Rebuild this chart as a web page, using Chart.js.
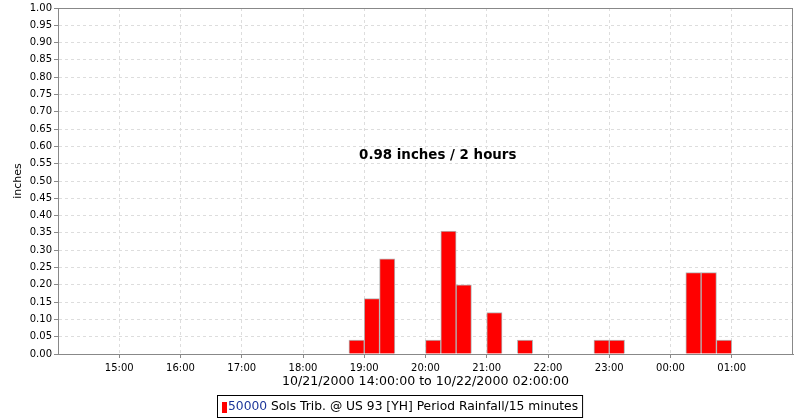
<!DOCTYPE html>
<html>
<head>
<meta charset="utf-8">
<script src="https://cdn.jsdelivr.net/npm/chart.js@4/dist/chart.umd.min.js"></script>
<style>
  html, body { margin: 0; padding: 0; background: #fff; }
  #wrap { width: 800px; height: 420px; }
</style>
</head>
<body>
<div id="wrap"><canvas id="rainChart" width="800" height="420"></canvas></div>
<script>
// End time of each 15 minute period and the rainfall in it (inches)
const periodEnds = ['19:00', '19:15', '19:30', '20:15', '20:30', '20:45', '21:15', '21:45', '23:00', '23:15', '00:30', '00:45', '01:00'];
const rainfall = [0.04, 0.16, 0.275, 0.04, 0.355, 0.2, 0.12, 0.04, 0.04, 0.04, 0.235, 0.235, 0.04];
const hourTicks = ['15:00', '16:00', '17:00', '18:00', '19:00', '20:00', '21:00', '22:00', '23:00', '00:00', '01:00'];

const seriesId = '50000';
const seriesName = ' Sols Trib. @ US 93 [YH] Period Rainfall/15 minutes';
const axisTitle = '10/21/2000 14:00:00 to 10/22/2000 02:00:00';
const totalNote = '0.98 inches / 2 hours';

const startHour = 14;
const FONT = '"DejaVu Sans", sans-serif';

// minutes after the start of the window (14:00)
function toMinutes(hhmm) {
    const [h, m] = hhmm.split(':').map(Number);
    return (h * 60 + m - startHour * 60 + 1440) % 1440;
}

function formatTick(value) {
    const h = (startHour + Math.floor(value / 60)) % 24;
    const m = value % 60;
    return String(h).padStart(2, '0') + ':' + String(m).padStart(2, '0');
}

// bars sit over their 15 minute period
const points = periodEnds.map((t, i) => ({ x: toMinutes(t) - 7.5, y: rainfall[i] }));

// plot frame, note and legend
const extras = {
    id: 'extras',
    afterDraw(chart) {
        const { ctx, chartArea: a, scales } = chart;
        ctx.save();
        ctx.strokeStyle = '#888888';
        ctx.lineWidth = 1;
        ctx.strokeRect(a.left + 0.5, a.top + 0.5, a.right - a.left - 1, a.bottom - a.top);

        // total note
        ctx.fillStyle = '#000';
        ctx.font = 'bold 13.4px ' + FONT;
        ctx.textAlign = 'center';
        ctx.textBaseline = 'middle';
        ctx.fillText(totalNote, scales.x.getPixelForValue(372), scales.y.getPixelForValue(0.575));

        // legend
        ctx.font = '12.3px ' + FONT;
        ctx.textAlign = 'left';
        const w1 = ctx.measureText(seriesId).width;
        const w2 = ctx.measureText(seriesName).width;
        const boxW = 4 + 5 + 1 + w1 + w2 + 5;
        const bx = Math.round((chart.width - boxW) / 2);
        const by = 395;
        ctx.strokeStyle = '#000';
        ctx.strokeRect(bx + 0.5, by + 0.5, boxW, 22);
        ctx.fillStyle = '#ff0000';
        ctx.fillRect(bx + 5, by + 7, 5, 11);
        ctx.textBaseline = 'middle';
        ctx.fillStyle = '#1a3399';
        ctx.fillText(seriesId, bx + 11, by + 12);
        ctx.fillStyle = '#000';
        ctx.fillText(seriesName, bx + 11 + w1, by + 12);
        ctx.restore();
    }
};

new Chart(document.getElementById('rainChart').getContext('2d'), {
    type: 'bar',
    data: {
        datasets: [{
            label: seriesId + seriesName,
            data: points,
            backgroundColor: '#ff0000',
            borderColor: '#b4b4b4',
            borderWidth: 1,
            barPercentage: 1,
            categoryPercentage: 1
        }]
    },
    options: {
        responsive: false,
        animation: false,
        layout: { padding: { top: 6, right: 7, left: 0, bottom: 30 } },
        plugins: {
            legend: { display: false },
            tooltip: { enabled: false }
        },
        scales: {
            x: {
                type: 'linear',
                min: 0,
                max: 720,
                offset: false,
                afterBuildTicks(scale) {
                    scale.ticks = hourTicks.map(t => ({ value: toMinutes(t) }));
                },
                afterFit(scale) { scale.height = 36; },
                ticks: {
                    callback: v => formatTick(v),
                    color: '#000',
                    font: { family: FONT, size: 10 },
                    maxRotation: 0,
                    padding: 4
                },
                grid: {
                    offset: false,
                    color: '#dddddd',
                    tickColor: '#888888',
                    tickLength: 4,
                    tickBorderDash: []
                },
                border: { color: '#888888', dash: [3, 3] },
                title: {
                    display: true,
                    text: axisTitle,
                    color: '#000',
                    font: { family: FONT, size: 12.6 },
                    padding: { top: 0, bottom: 1 }
                }
            },
            y: {
                min: 0,
                max: 1,
                afterFit(scale) { scale.width = 58; },
                ticks: {
                    stepSize: 0.05,
                    callback: v => v.toFixed(2),
                    color: '#000',
                    font: { family: FONT, size: 10 },
                    padding: 2
                },
                grid: {
                    color: '#dddddd',
                    tickColor: '#888888',
                    tickLength: 4,
                    tickBorderDash: []
                },
                border: { color: '#888888', dash: [3, 3] },
                title: {
                    display: true,
                    text: 'inches',
                    color: '#000',
                    font: { family: FONT, size: 11 },
                    padding: { top: 12, bottom: 0 }
                }
            }
        }
    },
    plugins: [extras]
});
</script>
</body>
</html>
